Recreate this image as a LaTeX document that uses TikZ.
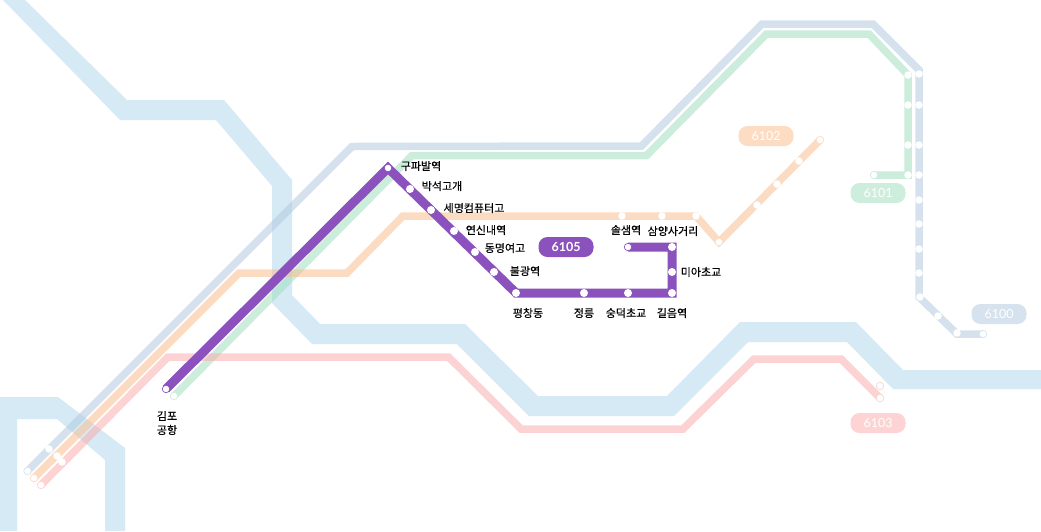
\documentclass[tikz,border=0pt]{standalone}
\usepackage{fontspec}
\newfontfamily\krfont[FakeBold=0.35]{Noto Sans CJK KR}
\newfontfamily\numfont{Lato}
\definecolor{river}{HTML}{D6EAF5}
\definecolor{lineB}{HTML}{ADC7DF}
\definecolor{lineG}{HTML}{9BDDBB}
\definecolor{lineO}{HTML}{FBB989}
\definecolor{lineR}{HTML}{FBA7A7}
\definecolor{lineP}{HTML}{8B52BD}
\begin{document}
\begin{tikzpicture}[x=1pt,y=-1pt]
\tikzset{base/.style={line join=miter,draw},
route/.style={base,line width=7.5pt,opacity=.5},
stn/.style={circle,fill=white,inner sep=0pt,minimum size=7.5pt},
endstn/.style={stn,line width=.7pt},
pstn/.style={stn,minimum size=8pt},
badge/.style={rounded corners=9pt,minimum width=55pt,minimum height=20pt,inner sep=0pt,text=white,font=\numfont\fontsize{12.5}{12.5}\selectfont},
stname/.style={font=\krfont\fontsize{11}{14}\selectfont,inner sep=0pt,align=center}}
\useasboundingbox (0,0) rectangle (1041,531);
\fill[white] (0,0) rectangle (1041,531);
% waypoints
\coordinate (B0) at (27.5,471);
\coordinate (B1) at (352,146.5);
\coordinate (B2) at (641.5,146);
\coordinate (B3) at (762,24);
\coordinate (B4) at (873,24);
\coordinate (B5) at (919,70);
\coordinate (B6) at (919,297);
\coordinate (B7) at (957,334);
\coordinate (B8) at (983,334);
\coordinate (G0) at (174,396);
\coordinate (G1) at (412,155.5);
\coordinate (G2) at (646.5,155.5);
\coordinate (G3) at (766.5,34);
\coordinate (G4) at (869,34);
\coordinate (G5) at (908,75);
\coordinate (G6) at (908,175);
\coordinate (G7) at (874,175);
\coordinate (O0) at (34,478);
\coordinate (O1) at (239,273);
\coordinate (O2) at (347,273);
\coordinate (O3) at (403,216);
\coordinate (O4) at (696,216);
\coordinate (O5) at (719,242);
\coordinate (O6) at (820,140);
\coordinate (R0) at (41,485);
\coordinate (R1) at (168,357);
\coordinate (R2) at (448.5,357);
\coordinate (R3) at (521,429);
\coordinate (R4) at (683,429);
\coordinate (R5) at (754,359);
\coordinate (R6) at (841,359);
\coordinate (R7) at (880,398);
\coordinate (P0) at (166,389);
\coordinate (P1) at (388,168);
\coordinate (P2) at (516,293);
\coordinate (P3) at (672,293);
\coordinate (P4) at (672,247);
\coordinate (P5) at (628,247);
% rivers
\fill[river] (25,0) -- (127,100) -- (224,100) -- (292,180) -- (292,295) -- (320,324) -- (465,324) -- (538,396) -- (667,396) -- (740,322) -- (856,322) -- (903,370) -- (1041,370) -- (1041,389) -- (893,389) -- (847,342) -- (748,342) -- (674,416) -- (529,416) -- (457,344) -- (312,344) -- (272,303) -- (272,186) -- (216,120) -- (120,120) -- (3,0) -- cycle;
\fill[river] (0,531) -- (0,397) -- (58,397) -- (125,448) -- (125,531) -- (105,531) -- (105,460) -- (57,419) -- (17,419) -- (17,531) -- cycle;
% routes
\path[route,draw=lineB] (B0) -- (B1) -- (B2) -- (B3) -- (B4) -- (B5) -- (B6) -- (B7) -- (B8);
\path[route,draw=lineG] (G0) -- (G1) -- (G2) -- (G3) -- (G4) -- (G5) -- (G6) -- (G7);
\path[route,draw=lineO] (O0) -- (O1) -- (O2) -- (O3) -- (O4) -- (O5) -- (O6);
\path[route,draw=lineR] (R0) -- (R1) -- (R2) -- (R3) -- (R4) -- (R5) -- (R6) -- (R7);
\path[base,draw=lineP,line width=9pt] (P0) -- (P1) -- (P2) -- (P3) -- (P4) -- (P5);
% stations
\foreach \x/\y/\n in {49/449/B9,919/74/B10,919/105/B11,919/145/B12,919/175/B13,919/200/B14,919/224/B15,919/249/B16,919/273/B17,920/297/B18,938/316/B19,957/333/B20,
908/75/G8,908/105/G9,908/145/G10,908/175/G11,
57/456/O7,622/216/O8,662/216/O9,696/216/O10,757/205/O11,777/184/O12,799/161/O13,
62/462/R8}
\node[stn] (S\n) at (\x,\y) {};
\foreach \x/\y/\n in {410/189/P6,431/210/P7,454/231/P8,475/252/P9,494/272/P10,516/293/P11,584/293/P12,628/293/P13,672/293/P14,672/272/P15,672/247/P16}
\node[pstn] (S\n) at (\x,\y) {};
\node[endstn,draw=lineB!50] (SB0) at (B0) {};
\node[endstn,draw=lineB!50] (SB8) at (B8) {};
\node[endstn,draw=lineG!50] (SG0) at (G0) {};
\node[endstn,draw=lineG!50] (SG7) at (G7) {};
\node[endstn,draw=lineO!50] (SO0) at (O0) {};
\node[endstn,draw=lineO!50] (SO5) at (O5) {};
\node[endstn,draw=lineO!50] (SO6) at (O6) {};
\node[endstn,draw=lineR!50] (SR0) at (R0) {};
\node[endstn,draw=lineR!50] (SR7) at (R7) {};
\node[endstn,draw=lineR!50] (SR9) at (880,386) {};
\node[endstn,draw=lineP] (SP0) at (P0) {};
\node[endstn,draw=lineP] (SP1) at (P1) {};
\node[endstn,draw=lineP] (SP5) at (P5) {};
% badges
\node[badge,fill=lineP,font=\numfont\bfseries\fontsize{12.5}{12.5}\selectfont] (L6105) at (566,247) {6105};
\node[badge,fill=lineO!50] (L6102) at (766,136) {6102};
\node[badge,fill=lineG!50] (L6101) at (878,193) {6101};
\node[badge,fill=lineB!50] (L6100) at (999,314) {6100};
\node[badge,fill=lineR!50] (L6103) at (878,423) {6103};
% labels
\foreach \x/\y/\n/\t in {421/166/a/구파발역,442/186/b/박석고개,474/208/c/세명컴퓨터고,486/230/d/연신내역,505/248/e/동명여고,525/271/f/불광역,528/313/g/평창동,584/313/h/정릉,626/313/i/숭덕초교,672/313/j/길음역,701/272/k/미아초교,626/230/l/솔샘역,673/231/m/삼양사거리}
\node[stname] (N\n) at (\x,\y) {\t};
\node[stname] (Ngimpo) at (167,423) {김포\\공항};
\end{tikzpicture}
\end{document}
